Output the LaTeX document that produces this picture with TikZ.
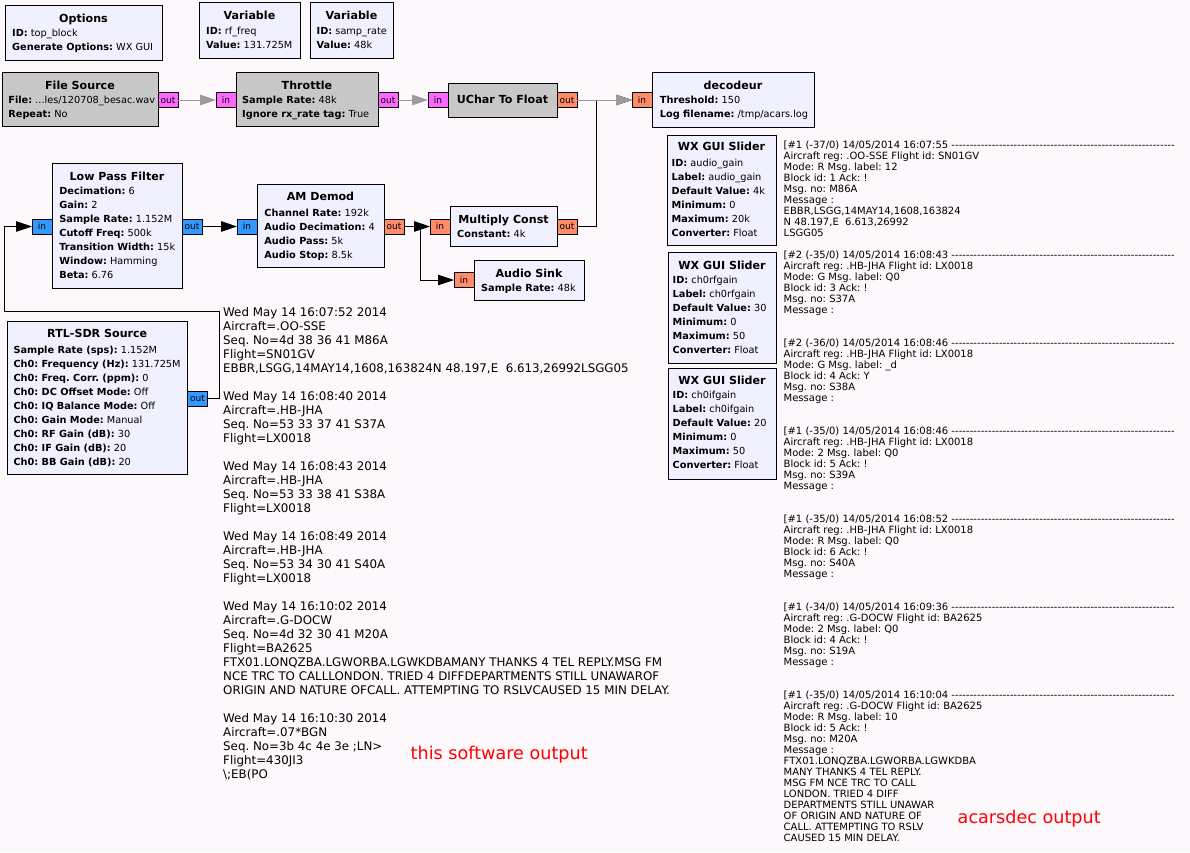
\documentclass[tikz,border=0pt]{standalone}
\usepackage{fontspec}
\setmainfont{DejaVu Sans}
\usetikzlibrary{arrows.meta}
\definecolor{bg}{RGB}{252,248,252}
\definecolor{lav}{RGB}{240,240,255}
\definecolor{gblk}{RGB}{200,200,200}
\definecolor{pbyte}{RGB}{255,102,255}
\definecolor{pfloat}{RGB}{255,140,105}
\definecolor{pcplx}{RGB}{51,153,255}
\definecolor{cgray}{RGB}{155,155,155}
\definecolor{lblred}{RGB}{255,0,0}
\newcommand\kv[2]{\textbf{#1:} #2}
\newcommand\hd[1]{\hbox to 391pt{#1\ \xleaders\hbox{-}\hfill}}
\frenchspacing
\begin{document}
\begin{tikzpicture}[x=1pt,y=-1pt,
  blk/.style={draw=black,line width=1pt,anchor=north west,inner sep=0pt,outer sep=0pt,fill=lav},
  gblkst/.style={blk,fill=gblk},
  ttl/.style={font=\fontsize{11.1}{13}\selectfont\bfseries,anchor=base,inner sep=0pt},
  prm/.style={font=\fontsize{9.75}{14}\selectfont,align=left,anchor=north west,inner sep=0pt},
  port/.style={draw=black,line width=1pt,anchor=north west,inner sep=0pt,outer sep=0pt,minimum width=20pt,minimum height=15pt,font=\fontsize{9}{10}\selectfont},
  bport/.style={port,fill=pbyte},
  fport/.style={port,fill=pfloat},
  cport/.style={port,fill=pcplx},
  conn/.style={draw=black,line width=1pt,-{Triangle[length=16pt,width=10.5pt]}},
  gconn/.style={draw=cgray,line width=1pt,-{Triangle[length=16pt,width=10.5pt]}},
  logtxt/.style={font=\fontsize{11.85}{14}\selectfont,align=left,anchor=north west,inner sep=0pt},
  acarstxt/.style={font=\fontsize{10}{11}\selectfont,align=left,anchor=north west,inner sep=0pt},
  redlbl/.style={font=\fontsize{17.6}{20}\selectfont,text=lblred,anchor=base west,inner sep=0pt}
]
\useasboundingbox (0,0) rectangle (1190,852);
\fill[bg] (0,0) rectangle (1190,852);

% ---------- blocks ----------
\node[blk,minimum width=157pt,minimum height=55pt] (opt) at (5,5) {};
\node[ttl] (opt-t) at (83.5,22) {Options};
\node[prm] (opt-p) at (12,26.9) {\strut\kv{ID}{top\_block}\\\kv{Generate Options}{WX GUI}};

\node[blk,minimum width=101pt,minimum height=56pt] (v1) at (199,2) {};
\node[ttl] (v1-t) at (249.5,19.3) {Variable};
\node[prm] (v1-p) at (206,24.5) {\strut\kv{ID}{rf\_freq}\\\kv{Value}{131.725M}};

\node[blk,minimum width=83pt,minimum height=56pt] (v2) at (310,2) {};
\node[ttl] (v2-t) at (351.5,19.3) {Variable};
\node[prm] (v2-p) at (316.5,24.5) {\strut\kv{ID}{samp\_rate}\\\kv{Value}{48k}};

\node[gblkst,minimum width=156pt,minimum height=54pt] (fs) at (2,72) {};
\node[ttl] (fs-t) at (80,89.3) {File Source};
\node[prm] (fs-p) at (8.2,93.5) {\strut\kv{File}{...les/120708\_besac.wav}\\\kv{Repeat}{No}};

\node[gblkst,minimum width=142pt,minimum height=54pt] (th) at (236,72) {};
\node[ttl] (th-t) at (307,89.3) {Throttle};
\node[prm] (th-p) at (242,93.5) {\strut\kv{Sample Rate}{48k}\\\kv{Ignore rx\_rate tag}{True}};

\node[gblkst,minimum width=109pt,minimum height=34pt] (uc) at (448,83) {};
\node[ttl] (uc-t) at (502.5,103.3) {UChar To Float};

\node[blk,minimum width=162pt,minimum height=55pt] (dec) at (652,72) {};
\node[ttl] (dec-t) at (733,89.3) {decodeur};
\node[prm] (dec-p) at (659.7,93.9) {\strut\kv{Threshold}{150}\\\kv{Log filename}{/tmp/acars.log}};

\node[blk,minimum width=130pt,minimum height=125pt] (lpf) at (52,163) {};
\node[ttl] (lpf-t) at (117,180) {Low Pass Filter};
\node[prm] (lpf-p) at (59.2,184.5) {\strut\kv{Decimation}{6}\\\kv{Gain}{2}\\\kv{Sample Rate}{1.152M}\\\kv{Cutoff Freq}{500k}\\\kv{Transition Width}{15k}\\\kv{Window}{Hamming}\\\kv{Beta}{6.76}};

\node[blk,minimum width=127pt,minimum height=83pt] (am) at (257,184) {};
\node[ttl] (am-t) at (320.5,200.7) {AM Demod};
\node[prm] (am-p) at (264.2,206.2) {\strut\kv{Channel Rate}{192k}\\\kv{Audio Decimation}{4}\\\kv{Audio Pass}{5k}\\\kv{Audio Stop}{8.5k}};

\node[blk,minimum width=107pt,minimum height=40pt] (mc) at (450,206) {};
\node[ttl] (mc-t) at (503.5,223.3) {Multiply Const};
\node[prm] (mc-p) at (457,227.5) {\strut\kv{Constant}{4k}};

\node[blk,minimum width=110pt,minimum height=40pt] (as) at (474,260) {};
\node[ttl] (as-t) at (529,277.3) {Audio Sink};
\node[prm] (as-p) at (481,281.9) {\strut\kv{Sample Rate}{48k}};

\node[blk,minimum width=180.5pt,minimum height=153pt] (rtl) at (7,321.5) {};
\node[ttl] (rtl-t) at (97.25,337.7) {RTL-SDR Source};
\node[prm] (rtl-p) at (13.3,343.5) {\strut\kv{Sample Rate (sps)}{1.152M}\\\kv{Ch0: Frequency (Hz)}{131.725M}\\\kv{Ch0: Freq. Corr. (ppm)}{0}\\\kv{Ch0: DC Offset Mode}{Off}\\\kv{Ch0: IQ Balance Mode}{Off}\\\kv{Ch0: Gain Mode}{Manual}\\\kv{Ch0: RF Gain (dB)}{30}\\\kv{Ch0: IF Gain (dB)}{20}\\\kv{Ch0: BB Gain (dB)}{20}};

\node[blk,minimum width=109pt,minimum height=110.5pt] (s1) at (667,135) {};
\node[ttl] (s1-t) at (721.5,150.7) {WX GUI Slider};
\node[prm] (s1-p) at (671.5,156.9) {\strut\kv{ID}{audio\_gain}\\\kv{Label}{audio\_gain}\\\kv{Default Value}{4k}\\\kv{Minimum}{0}\\\kv{Maximum}{20k}\\\kv{Converter}{Float}};

\node[blk,minimum width=108pt,minimum height=110.5pt] (s2) at (668,252.5) {};
\node[ttl] (s2-t) at (722,269.3) {WX GUI Slider};
\node[prm] (s2-p) at (672.5,273.5) {\strut\kv{ID}{ch0rfgain}\\\kv{Label}{ch0rfgain}\\\kv{Default Value}{30}\\\kv{Minimum}{0}\\\kv{Maximum}{50}\\\kv{Converter}{Float}};

\node[blk,minimum width=108pt,minimum height=111pt] (s3) at (668,368) {};
\node[ttl] (s3-t) at (722,384.5) {WX GUI Slider};
\node[prm] (s3-p) at (672.5,388.5) {\strut\kv{ID}{ch0ifgain}\\\kv{Label}{ch0ifgain}\\\kv{Default Value}{20}\\\kv{Minimum}{0}\\\kv{Maximum}{50}\\\kv{Converter}{Float}};

% ---------- ports ----------
\node[bport] (fs-out) at (158,92.5) {out};
\node[bport] (th-in) at (216,92.5) {in};
\node[bport] (th-out) at (378,92.5) {out};
\node[bport] (uc-in) at (428,92.5) {in};
\node[fport] (uc-out) at (557,92.5) {out};
\node[fport] (dec-in) at (632,92.5) {in};
\node[cport] (lpf-in) at (32,219) {in};
\node[cport] (lpf-out) at (182,219) {out};
\node[cport] (am-in) at (237,219) {in};
\node[fport] (am-out) at (384,219) {out};
\node[fport] (mc-in) at (430,219) {in};
\node[fport] (mc-out) at (557,219) {out};
\node[fport] (as-in) at (454,272.5) {in};
\node[cport] (rtl-out) at (187.5,391) {out};

% ---------- connectors ----------
\draw[conn] (mc-out.east) -- ++(19,0) |- (dec-in.west);
\draw[gconn] (fs-out.east) -- (th-in.west);
\draw[gconn] (th-out.east) -- (uc-in.west);
\draw[gconn] (uc-out.east) -- (dec-in.west);
\coordinate (lp1) at (219,311);
\coordinate (lp2) at (4,311);
\draw[conn] (rtl-out.east) -| (lp1) -- (lp2) |- (lpf-in.west);
\draw[conn] (lpf-out.east) -- (am-in.west);
\draw[conn] (am-out.east) -- (mc-in.west);
\draw[conn] (am-out.east) -- ++(16.5,0) |- (as-in.west);

% ---------- text outputs ----------
\node[logtxt] (swlog) at (223,306.9) {\strut Wed May 14 16:07:52 2014\\
Aircraft=.OO-SSE\\
Seq. No=4d 38 36 41 M86A\\
Flight=SN01GV\\
EBBR,LSGG,14MAY14,1608,163824N 48.197,E \ 6.613,26992LSGG05\\
\\
Wed May 14 16:08:40 2014\\
Aircraft=.HB-JHA\\
Seq. No=53 33 37 41 S37A\\
Flight=LX0018\\
\\
Wed May 14 16:08:43 2014\\
Aircraft=.HB-JHA\\
Seq. No=53 33 38 41 S38A\\
Flight=LX0018\\
\\
Wed May 14 16:08:49 2014\\
Aircraft=.HB-JHA\\
Seq. No=53 34 30 41 S40A\\
Flight=LX0018\\
\\
Wed May 14 16:10:02 2014\\
Aircraft=.G-DOCW\\
Seq. No=4d 32 30 41 M20A\\
Flight=BA2625\\
FTX01.LONQZBA.LGWORBA.LGWKDBAMANY THANKS 4 TEL REPLY.MSG FM\\
NCE TRC TO CALLLONDON. TRIED 4 DIFFDEPARTMENTS STILL UNAWAROF\\
ORIGIN AND NATURE OFCALL. ATTEMPTING TO RSLVCAUSED 15 MIN DELAY.\\
\\
Wed May 14 16:10:30 2014\\
Aircraft=.07*BGN\\
Seq. No=3b 4c 4e 3e ;LN>\\
Flight=430JI3\\
\textbackslash;EB(PO};

\node[acarstxt] (acars) at (783.5,140.8) {\strut\hd{[\#1 (-37/0) 14/05/2014 16:07:55}\\
Aircraft reg: .OO-SSE Flight id: SN01GV\\
Mode: R Msg. label: 12\\
Block id: 1 Ack: !\\
Msg. no: M86A\\
Message :\\
EBBR,LSGG,14MAY14,1608,163824\\
N 48.197,E \ 6.613,26992\\
LSGG05\\
\\
\hd{[\#2 (-35/0) 14/05/2014 16:08:43}\\
Aircraft reg: .HB-JHA Flight id: LX0018\\
Mode: G Msg. label: Q0\\
Block id: 3 Ack: !\\
Msg. no: S37A\\
Message :\\
\\
\\
\hd{[\#2 (-36/0) 14/05/2014 16:08:46}\\
Aircraft reg: .HB-JHA Flight id: LX0018\\
Mode: G Msg. label: \_d\\
Block id: 4 Ack: Y\\
Msg. no: S38A\\
Message :\\
\\
\\
\hd{[\#1 (-35/0) 14/05/2014 16:08:46}\\
Aircraft reg: .HB-JHA Flight id: LX0018\\
Mode: 2 Msg. label: Q0\\
Block id: 5 Ack: !\\
Msg. no: S39A\\
Message :\\
\\
\\
\hd{[\#1 (-35/0) 14/05/2014 16:08:52}\\
Aircraft reg: .HB-JHA Flight id: LX0018\\
Mode: R Msg. label: Q0\\
Block id: 6 Ack: !\\
Msg. no: S40A\\
Message :\\
\\
\\
\hd{[\#1 (-34/0) 14/05/2014 16:09:36}\\
Aircraft reg: .G-DOCW Flight id: BA2625\\
Mode: 2 Msg. label: Q0\\
Block id: 4 Ack: !\\
Msg. no: S19A\\
Message :\\
\\
\\
\hd{[\#1 (-35/0) 14/05/2014 16:10:04}\\
Aircraft reg: .G-DOCW Flight id: BA2625\\
Mode: R Msg. label: 10\\
Block id: 5 Ack: !\\
Msg. no: M20A\\
Message :\\
FTX01.LONQZBA.LGWORBA.LGWKDBA\\
MANY THANKS 4 TEL REPLY.\\
MSG FM NCE TRC TO CALL\\
LONDON. TRIED 4 DIFF\\
DEPARTMENTS STILL UNAWAR\\
OF ORIGIN AND NATURE OF\\
CALL. ATTEMPTING TO RSLV\\
CAUSED 15 MIN DELAY.};

\node[redlbl] (lbl-sw) at (410.5,759) {this software output};
\node[redlbl] (lbl-ac) at (957.5,823.3) {acarsdec output};
\end{tikzpicture}
\end{document}
